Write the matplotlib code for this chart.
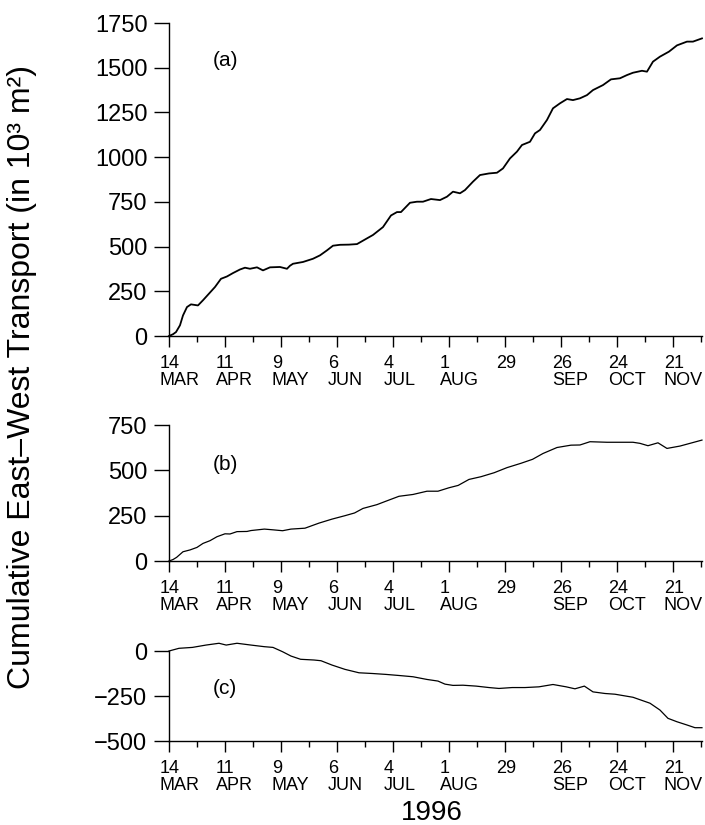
import matplotlib
matplotlib.use("Agg")
import matplotlib.pyplot as plt
import matplotlib.transforms as mtransforms

plt.rcParams['font.family'] = ['Liberation Sans', 'DejaVu Sans']

# days since 14 Mar 1996 and cumulative transport (10^3 m^2)
days_a = [0, 2, 3.5, 5.5, 7, 9, 11, 14.5, 17, 20, 23, 26, 29, 32, 35.5, 38, 40.5, 44, 47, 50.5,
          55.5, 59, 60.5, 62, 67, 72, 75.5, 79, 82, 85.5, 90, 94, 99, 102, 107, 111, 114, 116, 120.5, 124,
          127, 131, 135.5, 139, 142, 145.5, 148, 152, 155.5, 160, 164, 167, 170.5, 174, 176.5, 180.5, 183, 185.5, 189, 192,
          195.5, 199, 202, 205.5, 209, 212, 217, 221, 225.5, 229, 232, 236.5, 239, 242, 245.5, 250, 254, 259, 262, 266.5]
vals_a = [0, 10, 22, 60, 115, 162, 177, 171, 200, 237, 274, 320, 333, 352, 372, 382, 376, 384, 367, 384,
          386, 376, 393, 404, 414, 432, 451, 479, 505, 510, 511, 514, 546, 565, 609, 674, 693, 693, 745, 751,
          751, 766, 760, 779, 807, 798, 816, 863, 900, 909, 913, 937, 993, 1031, 1068, 1086, 1133, 1152, 1208, 1273,
          1301, 1325, 1319, 1329, 1347, 1375, 1403, 1435, 1441, 1459, 1472, 1483, 1478, 1534, 1562, 1590, 1625, 1646, 1646, 1664]

days_b = [0, 2, 3.8, 7, 10.5, 14, 17, 20.5, 24, 28, 30.5, 34, 39, 41, 47.7, 52, 56.8, 61, 68, 75,
          81.5, 88, 92.8, 97, 104, 108.5, 115, 122, 129, 134.5, 140, 144.6, 150, 156, 162.6, 169, 176, 181.8, 187, 194,
          201, 205.5, 210.5, 219, 226, 232, 235.5, 239.5, 244.5, 249, 255.5, 260.5, 266.5]
vals_b = [0, 8, 20, 51, 61, 75, 97, 112, 134, 150, 149, 162, 163, 168, 176, 172, 167, 176, 181, 209,
          231, 250, 265, 290, 311, 330, 357, 367, 385, 385, 404, 417, 450, 465, 487, 515, 539, 561, 593, 626,
          639, 640, 658, 655, 655, 655, 649, 636, 652, 621, 634, 649, 667]

days_c = [0, 5, 11.7, 18.5, 25, 28.6, 34, 41, 47.7, 52, 56.8, 61, 65.8, 72.5, 76, 81.5, 88, 95, 101.8, 108.5,
          115, 122, 129, 134.5, 138, 142, 147, 153.6, 160, 165, 171.6, 178, 185, 192, 198.6, 203, 207.7, 212, 218, 223,
          232, 240.5, 245.5, 249.5, 254, 259, 263, 266.5]
vals_c = [0, 15, 20, 33, 43, 33, 43, 33, 24, 20, -4, -28, -46, -50, -54, -78, -102, -121, -125, -130,
          -136, -143, -158, -167, -184, -191, -190, -195, -203, -208, -203, -203, -199, -186, -199, -210, -195, -227, -236, -240,
          -257, -290, -328, -374, -393, -411, -426, -426]

major_days = [0, 28, 56, 84, 112, 140, 168, 196, 224, 252]
minor_days = [14, 42, 70, 98, 126, 154, 182, 210, 238, 266]
xlabels = ["14\nMAR", "11\nAPR", "9\nMAY", "6\nJUN", "4\nJUL", "1\nAUG", "29", "26\nSEP", "24\nOCT", "21\nNOV"]

yticks_a = [0, 250, 500, 750, 1000, 1250, 1500, 1750]
yticks_b = [0, 250, 500, 750]
yticks_c = [-500, -250, 0]

fig = plt.figure(figsize=(7.05, 8.25), dpi=100)

panels = [
    ([0.2397, 0.5927, 0.756, 0.3794], days_a, vals_a, (0, 1750), yticks_a, "(a)", 0.88, 1.3),
    ([0.2397, 0.3200, 0.756, 0.1648], days_b, vals_b, (0, 750), yticks_b, "(b)", 0.71, 0.9),
    ([0.2397, 0.1018, 0.756, 0.1091], days_c, vals_c, (-500, 0), yticks_c, "(c)", 0.58, 0.9),
]

for rect, x, y, ylim, yt, tag, tag_y, lw in panels:
    ax = fig.add_axes(rect)
    ax.plot(x, y, color='black', lw=lw, clip_on=False)
    ax.set_xlim(0, 266.5)
    ax.set_ylim(*ylim)
    for s in ['top', 'right']:
        ax.spines[s].set_visible(False)
    for s in ['left', 'bottom']:
        ax.spines[s].set_linewidth(1.0)
    ax.set_yticks(yt)
    ax.tick_params(axis='y', direction='out', length=10.5, width=1.0, pad=5, labelsize=17)
    ax.set_xticks(major_days)
    ax.set_xticks(minor_days, minor=True)
    ax.set_xticklabels(xlabels, fontsize=13, linespacing=1.0)
    ax.tick_params(axis='x', which='major', direction='out', length=8, width=1.0, pad=6)
    ax.tick_params(axis='x', which='minor', direction='out', length=4.5, width=1.0)
    offset = mtransforms.ScaledTranslation(-9 / 100, 0, fig.dpi_scale_trans)
    for lab in ax.get_xticklabels():
        lab.set_horizontalalignment('left')
        lab.set_multialignment('left')
        lab.set_transform(lab.get_transform() + offset)
    ax.text(0.083, tag_y, tag, transform=ax.transAxes, fontsize=15, ha='left', va='center')

fig.text(0.031, 0.543, "Cumulative East\u2013West Transport (in 10\u00b3 m\u00b2)",
         rotation=90, ha='center', va='center', fontsize=23)
fig.text(0.613, 0.0145, "1996", ha='center', va='center', fontsize=20)

fig.savefig("out.png", dpi=100)
